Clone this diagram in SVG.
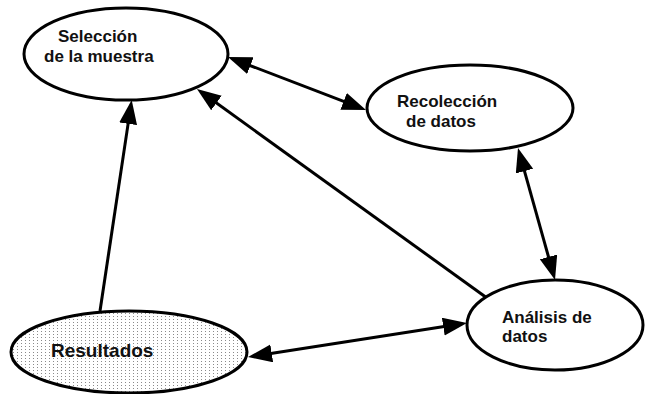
<svg xmlns="http://www.w3.org/2000/svg" width="645" height="394" viewBox="0 0 645 394">
<style>
  .node { fill: #ffffff; stroke: #000000; stroke-width: 3; }
  .lbl { font-family: "Liberation Sans", Arial, sans-serif; font-weight: bold; font-size: 17px; fill: #111111; }
  .big { font-size: 19px; }
  .conn { stroke: #000000; stroke-width: 3; fill: none; }
</style>
<defs>
  <pattern id="dots" patternUnits="userSpaceOnUse" width="4" height="3">
    <rect width="4" height="3" fill="#ffffff"/>
    <rect x="1" y="1" width="1" height="1" fill="#8a8a8a"/>
  </pattern>
  <marker id="ah" markerUnits="userSpaceOnUse" markerWidth="26" markerHeight="20" refX="14" refY="9" orient="auto-start-reverse">
    <path d="M0,0 L24,9 L0,18 z" fill="#000000"/>
  </marker>
</defs>
<rect width="645" height="394" fill="#ffffff"/>
<g id="connectors">
  <line class="conn" x1="100" y1="311" x2="130.2" y2="109.9" marker-end="url(#ah)"/>
  <line class="conn" x1="487" y1="298" x2="205.1" y2="94.8" marker-end="url(#ah)"/>
  <line class="conn" x1="237.3" y1="60.6" x2="356.7" y2="106.4" marker-start="url(#ah)" marker-end="url(#ah)"/>
  <line class="conn" x1="520.7" y1="157.6" x2="552.3" y2="270.4" marker-start="url(#ah)" marker-end="url(#ah)"/>
  <line class="conn" x1="257.9" y1="355.5" x2="457.1" y2="324.5" marker-start="url(#ah)" marker-end="url(#ah)"/>
</g>
<g id="seleccion">
  <ellipse class="node" cx="126" cy="54" rx="102" ry="46"/>
  <text class="lbl" x="58" y="42">Selección</text>
  <text class="lbl" x="44" y="62">de la muestra</text>
</g>
<g id="recoleccion">
  <ellipse class="node" cx="470" cy="108" rx="103" ry="43"/>
  <text class="lbl" x="397" y="107">Recolección</text>
  <text class="lbl" x="406" y="127">de datos</text>
</g>
<g id="analisis">
  <ellipse class="node" cx="555" cy="325" rx="88" ry="45"/>
  <text class="lbl" x="502" y="323">Análisis de</text>
  <text class="lbl" x="502" y="342">datos</text>
</g>
<g id="resultados">
  <ellipse class="node" cx="129" cy="352" rx="118" ry="41" style="fill:url(#dots)"/>
  <text class="lbl big" x="51" y="357">Resultados</text>
</g>
</svg>
